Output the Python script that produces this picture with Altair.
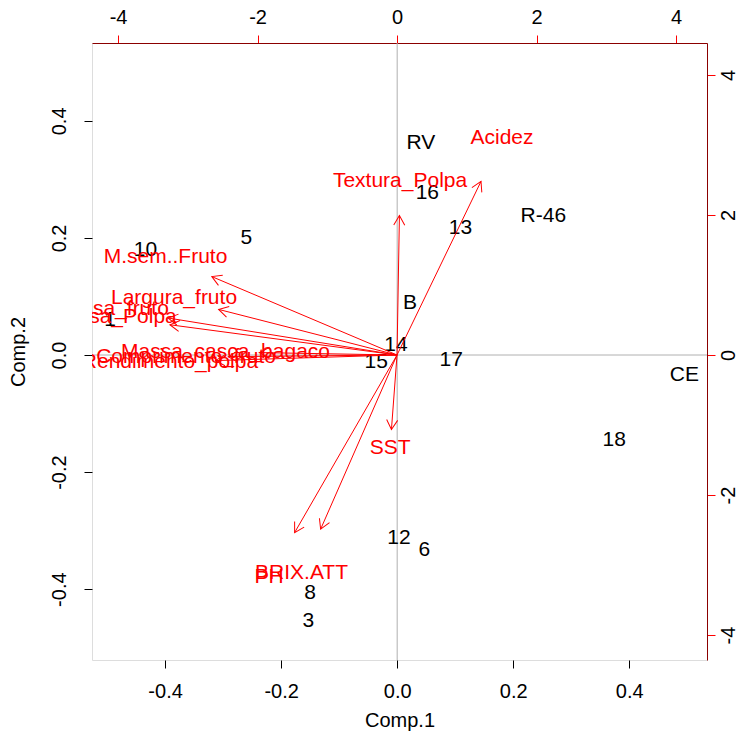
import altair as alt
import pandas as pd

# Observation scores (bottom / left axes)
obs_labels = ["RV", "16", "13", "R-46", "B", "14", "15", "17", "CE", "18",
              "12", "6", "8", "3", "5", "10", "1"]
obs_comp1 = [0.041, 0.052, 0.109, 0.252, 0.022, -0.002, -0.036, 0.093, 0.495, 0.374,
             0.003, 0.047, -0.150, -0.153, -0.260, -0.434, -0.495]
obs_comp2 = [0.362, 0.277, 0.217, 0.238, 0.089, 0.017, -0.012, -0.009, -0.034, -0.145,
             -0.313, -0.333, -0.407, -0.455, 0.200, 0.179, 0.060]

# Variable loadings (top / right axes)
var_labels = ["Acidez", "Textura_Polpa", "SST", "BRIX.ATT", "PH", "M.sem..Fruto",
              "Largura_fruto", "Massa_fruto", "Massa_Polpa", "Massa_casca_bagaco",
              "Comprimento_fruto", "Rendimento_polpa"]
var_load1 = [1.505, 0.043, -0.10, -1.369, -1.835, -3.319, -3.197, -4.10, -4.07, -2.459, -3.025, -3.255]
var_load2 = [3.10, 2.49, -1.33, -3.11, -3.171, 1.40, 0.814, 0.66, 0.54, 0.043, -0.03, -0.10]

x_ticks = [-0.4, -0.2, 0.0, 0.2, 0.4]
y_ticks = [-0.4, -0.2, 0.0, 0.2, 0.4]
top_ticks = [-4, -2, 0, 2, 4]
right_ticks = [-4, -2, 0, 2, 4]

obs = pd.DataFrame({"lab": obs_labels, "c1": obs_comp1, "c2": obs_comp2})
var = pd.DataFrame({"lab": var_labels, "l1": var_load1, "l2": var_load2})
zero = pd.DataFrame({"z": [0.0]})

FONT = "Liberation Sans, Arial, sans-serif"
TXT = 21
W, H = 615, 617
XD = [-0.526, 0.534]
YD = [-0.521, 0.533]
X2D = [-4.373, 4.444]
Y2D = [-4.357, 4.457]

fix_minus = "replace(format(datum.value, '.1f'), '\u2212', '-')"
fix_minus0 = "replace(format(datum.value, 'd'), '\u2212', '-')"

x_axis = alt.Axis(orient="bottom", values=x_ticks, labelExpr=fix_minus, title="Comp.1",
                  grid=False, domain=False, ticks=True, tickColor="black", tickSize=8,
                  labelFont=FONT, labelFontSize=20, labelColor="black",
                  labelBaseline="alphabetic", labelPadding=29,
                  titleFont=FONT, titleFontSize=20, titleFontWeight="normal",
                  titleColor="black", titleBaseline="middle", titleY=60)
y_axis = alt.Axis(orient="left", values=y_ticks, labelExpr=fix_minus, title="Comp.2",
                  grid=False, domain=False, ticks=True, tickColor="black", tickSize=8,
                  labelFont=FONT, labelFontSize=20, labelColor="black",
                  labelAngle=-90, labelAlign="center", labelBaseline="alphabetic",
                  labelPadding=19,
                  titleFont=FONT, titleFontSize=20, titleFontWeight="normal",
                  titleColor="black", titleAngle=-90, titleBaseline="middle",
                  titleAlign="center", titleX=-74, titleY=H / 2)
x2_axis = alt.Axis(orient="top", values=top_ticks, labelExpr=fix_minus0, title=None,
                   grid=False, domain=True, domainColor="#8b0000", ticks=True,
                   tickColor="red", tickSize=8,
                   labelFont=FONT, labelFontSize=20, labelColor="black",
                   labelBaseline="alphabetic", labelPadding=12)
y2_axis = alt.Axis(orient="right", values=right_ticks, labelExpr=fix_minus0, title=None,
                   grid=False, domain=True, domainColor="#8b0000", ticks=True,
                   tickColor="red", tickSize=8,
                   labelFont=FONT, labelFontSize=20, labelColor="black",
                   labelAngle=-90, labelAlign="center", labelBaseline="alphabetic",
                   labelPadding=19)

xs = alt.Scale(domain=XD, nice=False, zero=False)
ys = alt.Scale(domain=YD, nice=False, zero=False)
x2s = alt.Scale(domain=X2D, nice=False, zero=False)
y2s = alt.Scale(domain=Y2D, nice=False, zero=False)

vline = alt.Chart(zero).mark_rule(color="#b0b0b0", strokeWidth=1).encode(
    x=alt.X("z:Q", scale=xs, axis=x_axis))
hline = alt.Chart(zero).mark_rule(color="#b0b0b0", strokeWidth=1).encode(
    y=alt.Y("z:Q", scale=ys, axis=y_axis))
pts = alt.Chart(obs).mark_text(font=FONT, fontSize=TXT, color="black",
                               align="center", baseline="middle", clip=True).encode(
    x=alt.X("c1:Q", scale=xs, axis=x_axis),
    y=alt.Y("c2:Q", scale=ys, axis=y_axis),
    text="lab:N")
base = alt.layer(vline, hline, pts)

varc = alt.Chart(var).transform_calculate(
    o="0",
    tx="0.8*datum.l1",
    ty="0.8*datum.l2",
    ang="(atan2(datum.l1*69.75, datum.l2*70)*180/PI + 360) % 360",
)
rules = varc.mark_rule(color="red", strokeWidth=1).encode(
    x=alt.X("o:Q", scale=x2s, axis=x2_axis),
    x2="tx:Q",
    y=alt.Y("o:Q", scale=y2s, axis=y2_axis),
    y2="ty:Q")
heads = varc.mark_point(shape="M-0.5,0.866L0,0L0.5,0.866", filled=False,
                        color="red", strokeWidth=1, size=484, opacity=1).encode(
    x=alt.X("tx:Q", scale=x2s, axis=x2_axis),
    y=alt.Y("ty:Q", scale=y2s, axis=y2_axis),
    angle=alt.Angle("ang:Q", scale=None))
vlabs = varc.mark_text(font=FONT, fontSize=TXT, color="red",
                       align="center", baseline="middle", clip=True).encode(
    x=alt.X("l1:Q", scale=x2s, axis=x2_axis),
    y=alt.Y("l2:Q", scale=y2s, axis=y2_axis),
    text="lab:N")
arrows = alt.layer(rules, heads, vlabs)

chart = alt.layer(base, arrows).resolve_scale(
    x="independent", y="independent"
).properties(
    width=W, height=H,
    autosize=alt.AutoSizeParams(type="none"),
    padding={"left": 84, "top": 35, "right": 30, "bottom": 76},
).configure_view(stroke="black", strokeWidth=1, fill="white").configure(background="white")

chart.save("out.html", embed_options={"renderer": "svg", "actions": False})
